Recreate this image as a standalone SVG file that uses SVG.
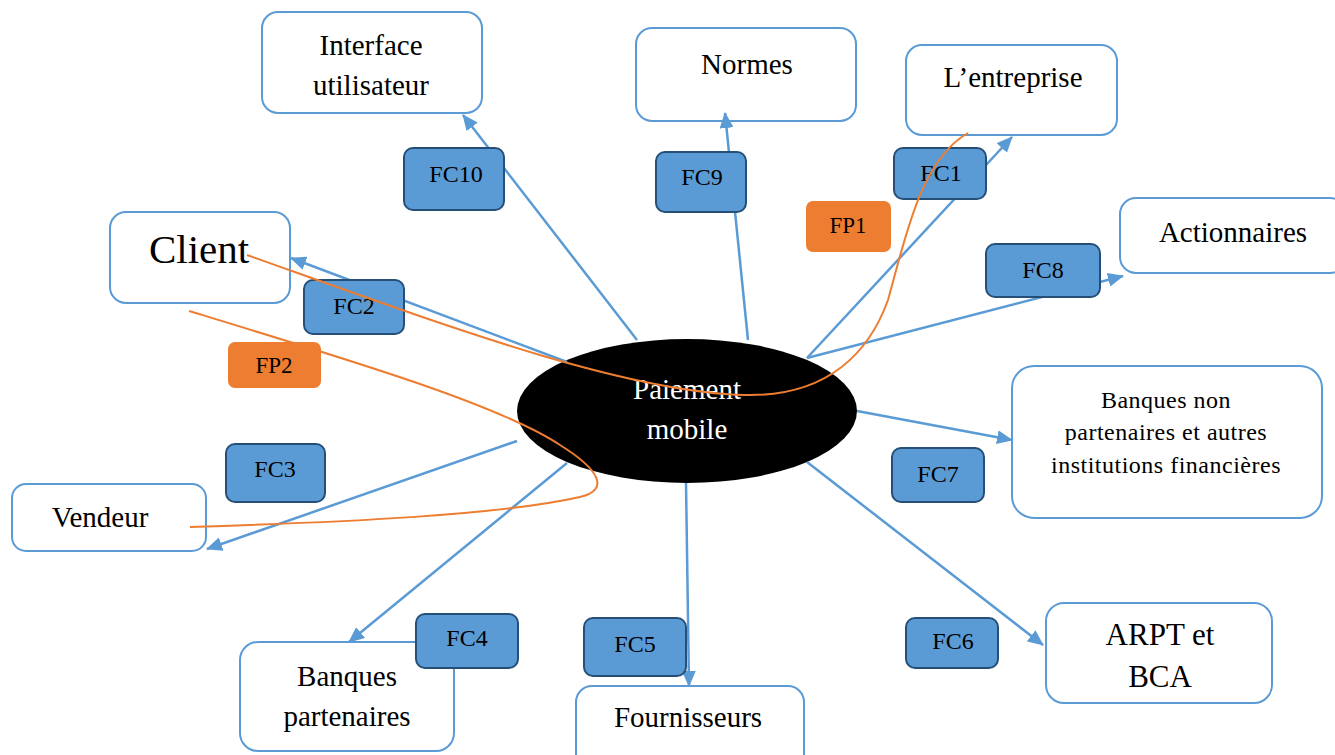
<svg xmlns="http://www.w3.org/2000/svg" width="1335" height="755" viewBox="0 0 1335 755">
  <style>
    .node { fill: #ffffff; stroke: #5B9BD5; stroke-width: 2; }
    .fc { fill: #5B9BD5; stroke: #264F78; stroke-width: 2; }
    .fp { fill: #ED7D31; stroke: none; }
    .link { fill: none; stroke: #5B9BD5; stroke-width: 2.5; }
    .flow { fill: none; stroke: #ED7D31; stroke-width: 2; }
    text { font-family: "Liberation Serif", "Times New Roman", serif; fill: #000000; text-anchor: middle; }
    .lbl { font-size: 29px; }
    .tag { font-size: 23px; }
    .small { font-size: 24px; }
    .center { fill: #ffffff; font-size: 29px; }
  </style>
  <defs>
    <marker id="arrow" viewBox="0 0 16 14" refX="15" refY="7" markerWidth="16" markerHeight="14" markerUnits="userSpaceOnUse" orient="auto">
      <path d="M0,0 L16,7 L0,14 Z" fill="#5B9BD5"/>
    </marker>
  </defs>

  <!-- central function -->
  <g id="paiement-mobile">
    <ellipse cx="687" cy="411" rx="170" ry="72" fill="#000000"/>
    <text class="center" x="687" y="399">Paiement</text>
    <text class="center" x="687" y="439">mobile</text>
  </g>

  <!-- external elements -->
  <g id="interface-utilisateur">
    <rect class="node" x="262" y="12" width="220" height="101" rx="16"/>
    <text class="lbl" x="371" y="55">Interface</text>
    <text class="lbl" x="371" y="95">utilisateur</text>
  </g>
  <g id="normes">
    <rect class="node" x="636" y="28" width="220" height="93" rx="16"/>
    <text class="lbl" x="747" y="74">Normes</text>
  </g>
  <g id="entreprise">
    <rect class="node" x="906" y="45" width="211" height="90" rx="16"/>
    <text class="lbl" x="1013" y="87">L’entreprise</text>
  </g>
  <g id="client">
    <rect class="node" x="110" y="212" width="180" height="91" rx="16"/>
    <text x="199" y="263" font-size="41">Client</text>
  </g>
  <g id="actionnaires">
    <rect class="node" x="1120" y="198" width="226" height="75" rx="16"/>
    <text class="lbl" x="1233" y="242">Actionnaires</text>
  </g>
  <g id="banques-non-partenaires">
    <rect class="node" x="1012" y="366" width="310" height="152" rx="22"/>
    <text x="1166" y="408" font-size="24" letter-spacing="0.5">Banques non</text>
    <text x="1166" y="440" font-size="24" letter-spacing="0.5">partenaires et autres</text>
    <text x="1166" y="473" font-size="24" letter-spacing="0.5">institutions financières</text>
  </g>
  <g id="vendeur">
    <rect class="node" x="12" y="484" width="194" height="67" rx="14"/>
    <text class="lbl" x="100" y="527">Vendeur</text>
  </g>
  <g id="banques-partenaires">
    <rect class="node" x="240" y="642" width="214" height="109" rx="18"/>
    <text class="lbl" x="347" y="686">Banques</text>
    <text class="lbl" x="347" y="726">partenaires</text>
  </g>
  <g id="fournisseurs">
    <rect class="node" x="576" y="686" width="228" height="90" rx="16"/>
    <text class="lbl" x="688" y="727">Fournisseurs</text>
  </g>
  <g id="arpt-bca">
    <rect class="node" x="1046" y="603" width="226" height="100" rx="18"/>
    <text x="1160" y="645" font-size="31">ARPT et</text>
    <text x="1160" y="687" font-size="31">BCA</text>
  </g>

  <!-- constraint functions -->
  <g id="connectors">
    <line class="link" x1="637" y1="340" x2="463" y2="115" marker-end="url(#arrow)"/>
    <line class="link" x1="748" y1="340" x2="725" y2="113" marker-end="url(#arrow)"/>
    <line class="link" x1="807" y1="358" x2="1012" y2="137" marker-end="url(#arrow)"/>
    <line class="link" x1="807" y1="358" x2="1123" y2="276" marker-end="url(#arrow)"/>
    <line class="link" x1="567" y1="362" x2="291" y2="258" marker-end="url(#arrow)"/>
    <line class="link" x1="857" y1="411" x2="1012" y2="440" marker-end="url(#arrow)"/>
    <line class="link" x1="807" y1="462" x2="1043" y2="645" marker-end="url(#arrow)"/>
    <line class="link" x1="686" y1="483" x2="689" y2="686" marker-end="url(#arrow)"/>
    <line class="link" x1="567" y1="463" x2="349" y2="642" marker-end="url(#arrow)"/>
    <line class="link" x1="517" y1="441" x2="207" y2="549" marker-end="url(#arrow)"/>
  </g>

  <g id="fc10"><rect class="fc" x="404" y="148" width="100" height="62" rx="9"/><text class="small" x="456" y="182">FC10</text></g>
  <g id="fc9"><rect class="fc" x="656" y="152" width="90" height="60" rx="9"/><text class="small" x="702" y="185">FC9</text></g>
  <g id="fc1"><rect class="fc" x="894" y="148" width="92" height="51" rx="9"/><text class="small" x="941" y="181">FC1</text></g>
  <g id="fc8"><rect class="fc" x="986" y="244" width="114" height="53" rx="9"/><text class="small" x="1043" y="278">FC8</text></g>
  <g id="fc2"><rect class="fc" x="304" y="280" width="100" height="54" rx="9"/><text class="small" x="354" y="314">FC2</text></g>
  <g id="fc3"><rect class="fc" x="226" y="444" width="99" height="58" rx="9"/><text class="small" x="275" y="477">FC3</text></g>
  <g id="fc7"><rect class="fc" x="892" y="448" width="92" height="54" rx="9"/><text class="small" x="938" y="482">FC7</text></g>
  <g id="fc4"><rect class="fc" x="416" y="614" width="102" height="54" rx="9"/><text class="small" x="467" y="646">FC4</text></g>
  <g id="fc5"><rect class="fc" x="584" y="618" width="102" height="58" rx="9"/><text class="small" x="635" y="652">FC5</text></g>
  <g id="fc6"><rect class="fc" x="906" y="618" width="92" height="50" rx="9"/><text class="small" x="953" y="649">FC6</text></g>

  <!-- principal functions -->
  <g id="flows">
    <path class="flow" d="M247,255 C430,320 620,392 745,395 C830,397 870,350 888,300 C905,240 920,160 968,133"/>
    <path class="flow" d="M189,311 C350,360 500,405 560,445 C600,470 610,490 580,497 C500,515 350,522 190,527"/>
  </g>

  <g id="fp1"><rect class="fp" x="806" y="201" width="85" height="51" rx="7"/><text class="tag" x="848" y="233">FP1</text></g>
  <g id="fp2"><rect class="fp" x="228" y="342" width="93" height="46" rx="7"/><text class="tag" x="274" y="373">FP2</text></g>
</svg>
